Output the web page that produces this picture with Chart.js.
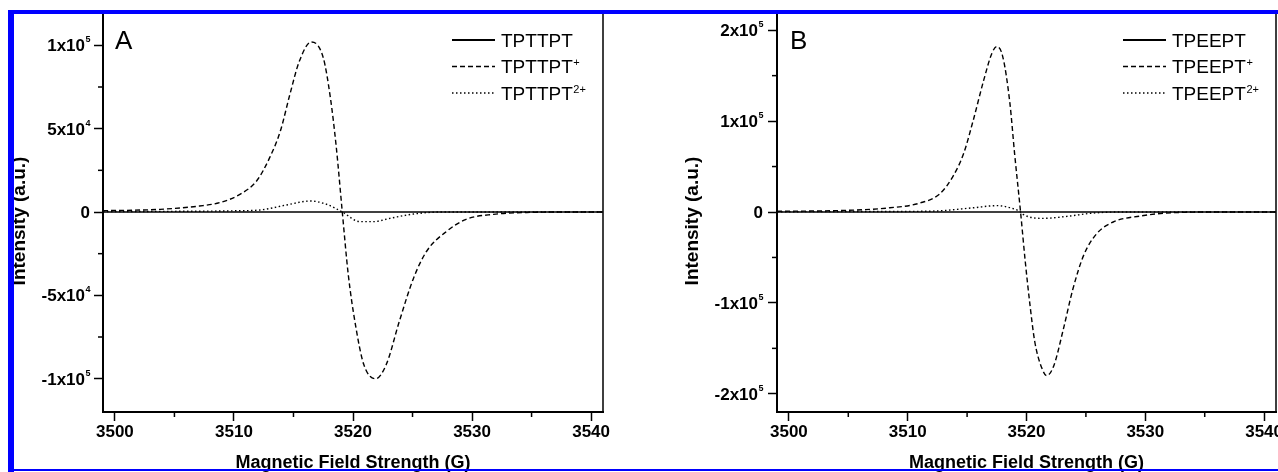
<!DOCTYPE html>
<html><head><meta charset="utf-8">
<script src="https://cdn.jsdelivr.net/npm/chart.js@4.4.1/dist/chart.umd.min.js"></script>
<style>
html,body{margin:0;padding:0;width:1278px;height:472px;overflow:hidden;background:#fff;}
canvas{position:absolute;top:0;}
.blue{position:absolute;background:#0000ff;}
</style></head><body>
<canvas id="chartA" width="640" height="472" style="left:0"></canvas>
<canvas id="chartB" width="700" height="472" style="left:640px"></canvas>
<div class="blue" style="left:8px;top:10px;width:1270px;height:4px"></div>
<div class="blue" style="left:8px;top:10px;width:6px;height:462px"></div>
<div class="blue" style="left:8px;top:469px;width:1270px;height:2px"></div>
<script>
// ---------- DATA ----------
const xTicks = [3500, 3510, 3520, 3530, 3540];
const xTickLabels = ['3500', '3510', '3520', '3530', '3540'];
const xMinorTicks = [3505, 3515, 3525, 3535];

const yTicksA = [-100000, -50000, 0, 50000, 100000];
const yTickLabelsA = ['-1x10\u2075', '-5x10\u2074', '0', '5x10\u2074', '1x10\u2075'];
const yMinorTicksA = [-75000, -25000, 25000, 75000];

const yTicksB = [-200000, -100000, 0, 100000, 200000];
const yTickLabelsB = ['-2x10\u2075', '-1x10\u2075', '0', '1x10\u2075', '2x10\u2075'];
const yMinorTicksB = [-150000, -50000, 50000, 150000];

const namesA = ['TPTTPT', 'TPTTPT\u207A', 'TPTTPT\u00B2\u207A'];
const namesB = ['TPEEPT', 'TPEEPT\u207A', 'TPEEPT\u00B2\u207A'];

// Panel A
const fieldNeutralA = [3499, 3510, 3520, 3530, 3541];
const intensityNeutralA = [0, 0, 0, 0, 0];
const fieldCationA = [3499, 3501, 3503.8, 3507.1, 3508.8, 3510.5, 3511.9, 3513.0, 3513.9, 3514.7, 3515.5, 3516.5, 3517.5, 3518.1, 3518.6, 3519.1, 3519.6, 3520.2, 3520.9, 3521.9, 3522.8, 3523.9, 3525.1, 3526.2, 3527.9, 3529.5, 3531.8, 3534.6, 3538, 3541];
const intensityCationA = [800, 1000, 1600, 3600, 5600, 10600, 18600, 32600, 48600, 70600, 90600, 102000, 92600, 68600, 38600, 0, -37400, -67400, -91400, -100000, -91400, -65400, -39400, -23400, -11400, -4400, -1400, -300, 0, 0];
const fieldDicationA = [3499, 3505, 3510, 3512.2, 3514.4, 3516.4, 3517.8, 3519.1, 3520.6, 3521.7, 3523.1, 3525.1, 3527.3, 3541];
const intensityDicationA = [300, 400, 700, 1200, 4200, 6600, 4600, 0, -5800, -5800, -3800, -1200, 0, 0];

// Panel B
const fieldNeutralB = [3499, 3510, 3520, 3530, 3541];
const intensityNeutralB = [0, 0, 0, 0, 0];
const fieldCationB = [3499, 3504.3, 3508.5, 3511.0, 3512.7, 3513.8, 3514.7, 3515.5, 3516.4, 3517.1, 3517.5, 3518.0, 3518.6, 3519.0, 3519.5, 3519.9, 3520.3, 3520.7, 3521.3, 3521.7, 3522.3, 3523.1, 3523.9, 3524.8, 3525.9, 3527.3, 3529.6, 3532.4, 3536, 3541];
const intensityCationB = [800, 1600, 4600, 9700, 20000, 39000, 64000, 100000, 145000, 175000, 182000, 171000, 120000, 64000, 0, -55000, -103000, -143000, -172000, -180000, -169000, -129000, -85000, -48000, -24000, -11000, -4400, -700, 0, 0];
const fieldDicationB = [3499, 3506, 3511.9, 3515.5, 3517.5, 3518.9, 3519.5, 3519.7, 3521.4, 3523.4, 3525.6, 3528, 3541];
const intensityDicationB = [300, 500, 900, 4600, 7000, 3600, 0, -2500, -7000, -4800, -1200, 0, 0];

// ---------- HELPERS ----------
const FONT = '"Liberation Sans", Arial, Helvetica, sans-serif';
Chart.defaults.font.family = FONT;
Chart.defaults.color = '#000';

const pts = (xs, ys) => xs.map((x, i) => ({x: x, y: ys[i]}));

const styles = [
  {borderWidth: 1.6, borderDash: [], legendWidth: 1.8},
  {borderWidth: 1.4, borderDash: [5, 3], legendWidth: 1.6},
  {borderWidth: 1.4, borderDash: [1.5, 2.5], legendWidth: 1.4}
];

const SUP = '\u2070\u00B9\u00B2\u00B3\u2074\u2075\u2076\u2077\u2078\u2079\u207A';
const SUPN = '0123456789+';
function splitSup(t) {
  let base = '', sup = '';
  for (const ch of t) {
    const k = SUP.indexOf(ch);
    if (k >= 0) sup += SUPN[k]; else base += ch;
  }
  return [base, sup];
}
// draw text whose trailing superscript characters are drawn small and raised.
// y = cap middle of base text
function drawSupText(ctx, text, x, y, align, baseFont, capH, supFont, supRaise) {
  const [base, sup] = splitSup(text);
  ctx.font = baseFont;
  const wb = ctx.measureText(base).width;
  ctx.font = supFont;
  const ws = sup ? ctx.measureText(sup).width : 0;
  let x0 = align === 'right' ? x - wb - ws : x;
  ctx.textAlign = 'left';
  ctx.textBaseline = 'alphabetic';
  ctx.font = baseFont;
  const baseline = y + capH / 2;
  ctx.fillText(base, x0, baseline);
  if (sup) {
    ctx.font = supFont;
    ctx.fillText(sup, x0 + wb + 0.5, baseline - capH + supRaise);
  }
}

const extrasPlugin = {
  id: 'extras',
  afterDraw(chart, args, o) {
    const ctx = chart.ctx, ca = chart.chartArea;
    const xs = chart.scales.x, ys = chart.scales.y;
    ctx.save();
    ctx.strokeStyle = '#000';
    ctx.fillStyle = '#000';
    // frame right/top
    ctx.lineWidth = 1.5;
    ctx.beginPath();
    ctx.moveTo(ca.left, ca.top); ctx.lineTo(ca.right, ca.top); ctx.lineTo(ca.right, ca.bottom + 1);
    ctx.stroke();
    // minor ticks
    o.xMinor.forEach(v => {
      const p = xs.getPixelForValue(v);
      ctx.beginPath(); ctx.moveTo(p, ca.bottom); ctx.lineTo(p, ca.bottom + o.minorLen); ctx.stroke();
    });
    o.yMinor.forEach(v => {
      const p = ys.getPixelForValue(v);
      ctx.beginPath(); ctx.moveTo(ca.left, p); ctx.lineTo(ca.left - o.minorLen, p); ctx.stroke();
    });
    // y tick labels with superscript exponent
    o.yTicks.forEach((v, i) => {
      const p = ys.getPixelForValue(v);
      drawSupText(ctx, o.yLabels[i], ca.left - 9 - o.yPad, p, 'right',
        'bold 17px ' + FONT, 12.2, 'bold 9px ' + FONT, 3);
    });
    // y axis title (rotated)
    ctx.save();
    ctx.translate(o.yTitleX, o.yTitleY);
    ctx.rotate(-Math.PI / 2);
    ctx.font = 'bold 19px ' + FONT;
    ctx.textAlign = 'center';
    ctx.textBaseline = 'middle';
    ctx.fillText(o.yTitle, 0, 0);
    ctx.restore();
    // legend
    chart.data.datasets.forEach((ds, i) => {
      const y = o.legendY + i * o.legendDy;
      ctx.save();
      ctx.lineWidth = ds.legendWidth;
      ctx.setLineDash(ds.borderDash);
      ctx.beginPath(); ctx.moveTo(o.legendX, y); ctx.lineTo(o.legendX + o.legendLen, y); ctx.stroke();
      ctx.restore();
      drawSupText(ctx, ds.label, o.legendX + o.legendLen + o.legendGap, y, 'left',
        '19px ' + FONT, 13.6, '11px ' + FONT, 6.5);
    });
    // panel letter
    ctx.font = '26px ' + FONT;
    ctx.textAlign = 'left';
    ctx.textBaseline = 'alphabetic';
    ctx.fillText(o.letter, o.letterX, o.letterY);
    ctx.restore();
  }
};

function makeChart(id, names, series, yTicks, yLabels, yMinor, ymax, geom) {
  const datasets = series.map((s, i) => ({
    label: names[i],
    data: pts(s[0], s[1]),
    borderColor: '#000',
    backgroundColor: '#000',
    borderWidth: styles[i].borderWidth,
    borderDash: styles[i].borderDash,
    legendWidth: styles[i].legendWidth,
    pointRadius: 0,
    fill: false,
    cubicInterpolationMode: 'monotone'
  }));
  return new Chart(document.getElementById(id), {
    type: 'line',
    data: {datasets: datasets},
    plugins: [extrasPlugin],
    options: {
      responsive: false,
      animation: false,
      devicePixelRatio: 1,
      layout: {padding: {left: 0, top: 12, right: geom.padRight, bottom: 0}},
      plugins: {
        legend: {display: false},
        tooltip: {enabled: false},
        extras: {
          xMinor: xMinorTicks, yMinor: yMinor, minorLen: 5,
          yTicks: yTicks, yLabels: yLabels, yPad: geom.yPad,
          yTitle: 'Intensity (a.u.)', yTitleX: geom.yTitleX, yTitleY: 221,
          legendX: geom.legendX, legendY: 40, legendDy: 26.5, legendLen: 43, legendGap: 6,
          letter: geom.letter, letterX: geom.letterX, letterY: 49
        }
      },
      scales: {
        x: {
          type: 'linear', min: 3499, max: 3541,
          afterBuildTicks: (sc) => { sc.ticks = xTicks.map(v => ({value: v})); },
          afterFit: (sc) => { sc.height = 60; },
          grid: {drawOnChartArea: false, drawTicks: true, tickLength: 9, color: '#000', tickWidth: 1.5},
          border: {display: true, color: '#000', width: 2},
          ticks: {
            padding: 1, maxRotation: 0, autoSkip: false,
            font: {size: 17, weight: 'bold', lineHeight: 1.2},
            callback: (v) => { const i = xTicks.indexOf(v); return i >= 0 ? xTickLabels[i] : ''; }
          },
          title: {display: true, text: 'Magnetic Field Strength (G)', font: {size: 18, weight: 'bold', lineHeight: 1}, padding: {top: 0, bottom: 0}}
        },
        y: {
          type: 'linear', min: -ymax, max: ymax,
          afterBuildTicks: (sc) => { sc.ticks = yTicks.map(v => ({value: v})); },
          afterFit: (sc) => { sc.width = geom.yWidth; },
          grid: {drawOnChartArea: false, drawTicks: true, tickLength: 9, color: '#000', tickWidth: 1.5},
          border: {display: true, color: '#000', width: 2},
          ticks: {display: false, autoSkip: false},
          title: {display: false}
        }
      }
    }
  });
}

makeChart('chartA', namesA,
  [[fieldNeutralA, intensityNeutralA], [fieldCationA, intensityCationA], [fieldDicationA, intensityDicationA]],
  yTicksA, yTickLabelsA, yMinorTicksA, 120000,
  {padRight: 37, yWidth: 103, yPad: 4, yTitleX: 20, legendX: 452, letter: 'A', letterX: 115});

makeChart('chartB', namesB,
  [[fieldNeutralB, intensityNeutralB], [fieldCationB, intensityCationB], [fieldDicationB, intensityDicationB]],
  yTicksB, yTickLabelsB, yMinorTicksB, 220000,
  {padRight: 64, yWidth: 137, yPad: 5, yTitleX: 52.5, legendX: 483, letter: 'B', letterX: 150});
</script>
</body></html>
